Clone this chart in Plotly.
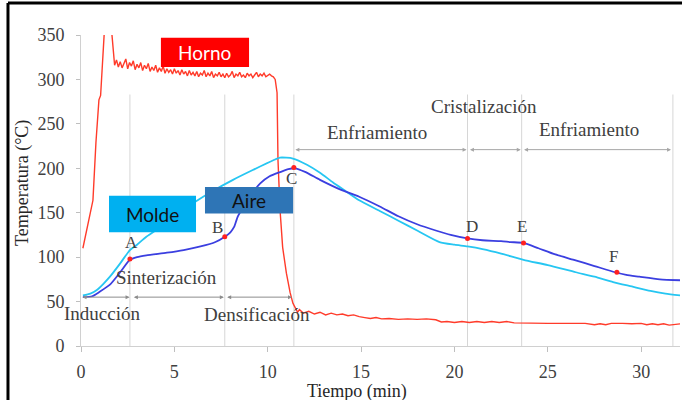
import numpy as np
import plotly.graph_objects as go

# ---------------- data ----------------
# Horno (furnace) temperature: heating ramp, noisy plateau, quench, cold tail
horno_ramp_t = [0.1, 0.25, 0.4, 0.5, 0.64, 0.8, 0.96, 1.05, 1.12, 1.2, 1.3, 1.45, 1.55, 1.65, 1.72]
horno_ramp_v = [110, 125, 140, 150, 164, 229, 277, 282, 314, 348, 372, 374, 366, 352, 330]
horno_plateau_v = [
    316, 322, 314, 320, 313, 318, 323, 312, 319, 315,
    321, 311, 317, 313, 319, 310, 316, 312, 318, 309,
    314, 310, 316, 308, 313, 309, 315, 307, 312, 308,
    311, 306, 312, 307, 310, 305, 311, 306, 309, 304,
    310, 305, 308, 304, 309, 303, 307, 305, 310, 303,
    307, 304, 309, 302, 306, 304, 308, 303, 306, 302,
    307, 303, 305, 309, 302, 306, 304, 308, 303, 305,
    302, 307, 304, 306, 302, 305, 308, 303, 306, 304,
    307, 303, 305, 306, 304, 303,
]
horno_plateau_t = np.round(1.8 + 0.1 * np.arange(len(horno_plateau_v)), 2)
horno_drop_t = [10.4, 10.5, 10.55, 10.66, 10.8, 11.0, 11.2, 11.35, 11.5, 11.6, 11.7]
horno_drop_v = [300, 285, 209, 153, 111, 82, 60, 48, 42, 38, 41]
horno_tail_t = [11.9, 12.2, 12.5, 12.8, 13.1, 13.4, 13.7, 14.0, 14.3, 14.6, 14.9, 15.2,
                15.5, 15.8, 16.1, 16.5, 17.0, 17.5, 18.0, 18.5, 19.0, 19.3, 19.6, 20.0,
                20.4, 20.8, 21.2, 21.6, 22.0, 22.4, 22.8, 23.2, 24.0, 25.0, 26.0, 27.0,
                27.5, 27.8, 28.1, 28.4, 29.0, 29.5, 30.0, 30.3, 30.6, 30.9, 31.2, 31.5, 32.1]
horno_tail_v = [37, 39, 36, 38, 35, 37, 35, 36, 34, 35, 33, 32,
                31, 32, 30.5, 31, 30, 30.5, 30, 30.5, 29.5, 27, 27.5, 26.5,
                27.5, 26.5, 27.5, 26.5, 27.5, 26.5, 27.5, 26, 25.5, 25.5, 25.5, 25.5,
                24, 25, 24, 25.5, 25.5, 25, 25.5, 24, 25, 24, 25, 23.5, 25]

# Molde (mould) temperature
molde_t = [0.1, 0.5, 0.85, 1.2, 1.55, 2.1, 2.62, 3.0, 3.5, 4.5, 5.3, 6.1, 7.1, 8.14, 9.2,
           10.3, 10.66, 11.35, 12.1, 12.8, 13.5, 14.2, 14.9, 16.0, 17.0, 18.0, 19.2,
           20.0, 20.7, 21.5, 22.5, 23.7, 25.0, 26.5, 27.5, 28.5, 29.5, 30.5, 31.3, 32.1]
molde_v = [57, 59, 63, 70, 78, 93, 108, 114, 123, 137, 150, 162, 175, 187, 198,
           209, 212, 211, 204, 195, 184, 174, 164, 152, 141, 130, 117,
           114, 112, 109, 104, 97, 91, 83, 78, 72, 67, 62, 59, 57]

# Aire (air) temperature
aire_t = [0.1, 0.6, 1.0, 1.55, 2.1, 2.62, 3.0, 3.5, 4.6, 5.5, 6.4, 7.2, 7.7, 8.0, 8.2, 8.4,
          8.8, 9.2, 9.6, 10.1, 10.7, 11.1, 11.45, 12.0, 12.8, 13.9, 14.9, 16.0, 17.0,
          18.0, 19.0, 19.8, 20.7, 21.5, 22.5, 23.0, 23.7, 24.5, 25.4, 26.4, 27.5, 28.6,
          29.2, 29.9, 31.0, 32.1]
aire_v = [55, 56, 61, 69, 83, 97, 100, 102, 105, 108, 112, 117, 123, 128, 134, 146,
          160, 173, 183, 191, 196, 199, 200, 196, 187, 176, 168, 157, 146,
          137, 130, 125, 121, 119, 118, 117, 116, 110, 103, 97, 90, 83,
          80, 78, 75, 74]

# Transition points on the air curve
point_names = ["A", "B", "C", "D", "E", "F"]
point_t = [2.62, 7.7, 11.4, 20.7, 23.7, 28.7]
point_v = [98, 123, 201, 121, 116, 83]
point_label_t = [2.68, 7.3, 11.3, 20.95, 23.6, 28.5]
point_label_v = [116, 133, 189, 135, 135, 101]

# Process stages (start, end, label, label position, arrow height)
stage_lower = [(0.0, 2.6, "Inducción", 1.1, 37), (2.75, 7.65, "Sinterización", 4.6, 77),
               (7.75, 11.3, "Densificación", 9.4, 36)]
stage_upper = [(11.4, 20.65, "Enfriamiento", 15.85, 240), (20.75, 23.55, "Cristalización", 21.6, 270),
               (23.65, 31.6, "Enfriamiento", 27.2, 244)]
stage_lower_y = 55
stage_upper_y = 221
divider_t = [2.62, 7.7, 11.4, 20.7, 23.6, 31.7]

x_ticks = [0, 5, 10, 15, 20, 25, 30]
y_ticks = [0, 50, 100, 150, 200, 250, 300, 350]

# ---------------- figure ----------------
serif = "Liberation Serif"
sans = "Lato"

horno_t = list(horno_ramp_t) + list(horno_plateau_t) + horno_drop_t + horno_tail_t
horno_v = horno_ramp_v + horno_plateau_v + horno_drop_v + horno_tail_v

fig = go.Figure()

# stage dividers
for t in divider_t:
    fig.add_shape(type="line", xref="x", yref="y", x0=t, x1=t, y0=-10, y1=283,
                  line=dict(color="#d6d6d6", width=1), layer="below")

fig.add_trace(go.Scatter(x=horno_t, y=horno_v, mode="lines",
                         line=dict(color="#ff3b2a", width=1.4), name="Horno"))
fig.add_trace(go.Scatter(x=molde_t, y=molde_v, mode="lines",
                         line=dict(color="#26c6f2", width=1.8, shape="spline", smoothing=0.6),
                         name="Molde"))
fig.add_trace(go.Scatter(x=aire_t, y=aire_v, mode="lines",
                         line=dict(color="#3b3fe0", width=1.8, shape="spline", smoothing=0.6),
                         name="Aire"))
fig.add_trace(go.Scatter(x=point_t, y=point_v, mode="markers",
                         marker=dict(color="#ff2020", size=5), name="puntos"))

for name, lt, lv in zip(point_names, point_label_t, point_label_v):
    fig.add_annotation(x=lt, y=lv, text=name, showarrow=False,
                       font=dict(family=serif, size=17, color="#404040"))

# stage arrows and labels
def stage_arrows(stages, y, color):
    for t0, t1, label, lx, ly in stages:
        fig.add_annotation(x=t1, y=y, ax=t0, ay=y, xref="x", yref="y", axref="x", ayref="y",
                           text="", showarrow=True, arrowside="end+start", arrowhead=2,
                           arrowsize=0.8, arrowwidth=1, arrowcolor=color)
        fig.add_annotation(x=lx, y=ly, text=label, showarrow=False,
                           font=dict(family=serif, size=19, color="#404040"))

stage_arrows(stage_lower, stage_lower_y, "#8c8c8c")
stage_arrows(stage_upper, stage_upper_y, "#a6a6a6")

# series name boxes
boxes = [("Horno", 4.28, 9.0, 314, 347, "#ff0000", "white"),
         ("Molde", 1.5, 6.16, 128, 169, "#00b0f0", "#111111"),
         ("Aire", 6.64, 11.36, 149, 179, "#2e75b6", "#111111")]
for label, x0, x1, y0, y1, fill, fc in boxes:
    fig.add_shape(type="rect", xref="x", yref="y", x0=x0, x1=x1, y0=y0, y1=y1,
                  fillcolor=fill, line=dict(width=0), layer="above")
    fig.add_annotation(x=(x0 + x1) / 2, y=(y0 + y1) / 2, text=label, showarrow=False,
                       font=dict(family=sans, size=19, color=fc))

# axis titles
fig.add_annotation(xref="paper", yref="paper", x=-0.0985, y=0.524, text="Temperatura (°C)",
                   textangle=-90, showarrow=False, xanchor="center", yanchor="middle",
                   font=dict(family=serif, size=18, color="#262626"))
fig.add_annotation(xref="x", yref="paper", x=14.8, y=-0.147, text="Tiempo (min)",
                   showarrow=False, xanchor="center", yanchor="middle",
                   font=dict(family=serif, size=18, color="#262626"))

# black frame on the left and top edges
fig.add_shape(type="line", xref="paper", yref="paper", x0=-0.1219, x1=-0.1219, y0=-0.2, y1=1.103,
              line=dict(color="black", width=3))
fig.add_shape(type="line", xref="paper", yref="paper", x0=-0.1219, x1=1.01, y0=1.103, y1=1.103,
              line=dict(color="black", width=3))

fig.update_layout(
    width=682, height=400,
    margin=dict(l=81, r=2, t=35, b=54),
    paper_bgcolor="white", plot_bgcolor="white",
    showlegend=False,
    xaxis=dict(range=[0, 32.08], tickvals=x_ticks, ticks="outside", ticklen=5,
               tickcolor="#bfbfbf", showline=True, linecolor="#d0d0d0", showgrid=False,
               zeroline=False, ticklabelstandoff=4,
               tickfont=dict(family=serif, size=18, color="#404040")),
    yaxis=dict(range=[0, 350], tickvals=y_ticks, ticks="outside", ticklen=4,
               tickcolor="#bfbfbf", showline=True, linecolor="#d0d0d0", showgrid=False,
               zeroline=False, ticklabelstandoff=8,
               tickfont=dict(family=serif, size=18, color="#404040")),
)

fig.write_html("out.html")
